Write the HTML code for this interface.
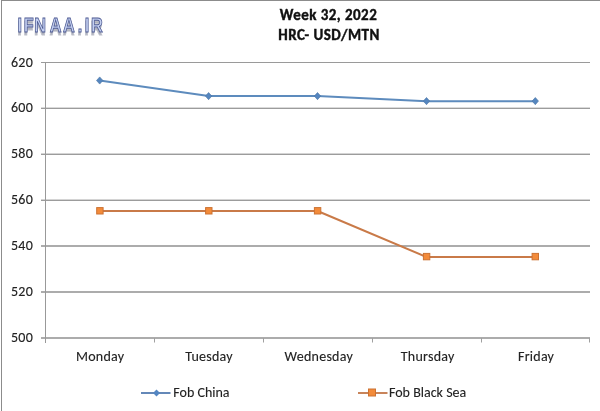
<!DOCTYPE html>
<html><head><meta charset="utf-8">
<style>
html,body{margin:0;padding:0;background:#fff;width:600px;height:411px;overflow:hidden}
svg{display:block}
.ax{font-family:Carlito,"Liberation Sans",sans-serif;font-size:14px;fill:#222;stroke:#222;stroke-width:0.12px;letter-spacing:0.25px}
.lg{letter-spacing:0;stroke-width:0.1px;fill:#222;stroke:#222}
.tt{font-family:Carlito,"Liberation Sans",sans-serif;font-size:15px;font-weight:bold;fill:#111;letter-spacing:0.45px;stroke:#111;stroke-width:0.4px}
.logo{font-family:"Liberation Sans",Arial,sans-serif;font-size:21px;font-weight:bold}
</style></head>
<body>
<svg width="600" height="411" viewBox="0 0 600 411">
<rect x="0" y="0" width="600" height="411" fill="#fff"/>
<!-- frame -->
<rect x="1" y="0" width="1" height="411" fill="#8c8c8c"/>
<rect x="1" y="0" width="599" height="1" fill="#8c8c8c"/>

<!-- logo -->
<g class="logo">
<text x="22.05 30.00 43.46 63.33 80.38 99.10 108.08 116.15" y="35.2" fill="#aeb1bd" stroke="#c0c3cc" stroke-width="0.8" transform="scale(0.78,1)">IFNAA.IR</text>
<text x="22.56 30.51 43.97 63.85 80.90 99.62 108.59 116.67" y="32.2" fill="#c3cff0" stroke="#4a5790" stroke-width="0.85" transform="scale(0.78,1)">IFNAA.IR</text>
</g>

<!-- title -->
<text class="tt" x="328.5" y="20" text-anchor="middle">Week 32, 2022</text>
<text class="tt" x="329" y="39.5" text-anchor="middle">HRC- USD/MTN</text>

<!-- gridlines -->
<g>
<rect x="41" y="62" width="549" height="1" fill="#9a9a9a"/>
<rect x="41" y="107" width="549" height="1" fill="#dadada"/>
<rect x="41" y="108" width="549" height="1" fill="#9c9c9c"/>
<rect x="41" y="153" width="549" height="1" fill="#d4d4d4"/>
<rect x="41" y="154" width="549" height="1" fill="#9c9c9c"/>
<rect x="41" y="199" width="549" height="1" fill="#d4d4d4"/>
<rect x="41" y="200" width="549" height="1" fill="#9c9c9c"/>
<rect x="41" y="245" width="549" height="2" fill="#acacac"/>
<rect x="41" y="291" width="549" height="2" fill="#acacac"/>
<rect x="41" y="337" width="549" height="2" fill="#acacac"/>
<!-- y axis -->
<rect x="45" y="62" width="1" height="281" fill="#999"/>
<!-- x ticks -->
<g fill="#a0a0a0">
<rect x="154" y="338" width="1" height="4.5"/>
<rect x="263" y="338" width="1" height="4.5"/>
<rect x="372" y="338" width="1" height="4.5"/>
<rect x="481" y="338" width="1" height="4.5"/>
<rect x="589" y="338" width="1" height="4.5"/>
</g>
</g>

<!-- y labels -->
<g class="ax" text-anchor="end">
<text x="33" y="66.5">620</text>
<text x="33" y="112.3">600</text>
<text x="33" y="158.3">580</text>
<text x="33" y="204.3">560</text>
<text x="33" y="250">540</text>
<text x="33" y="296">520</text>
<text x="33" y="341.6">500</text>
</g>

<!-- x labels -->
<g class="ax" text-anchor="middle">
<text x="100.2" y="361">Monday</text>
<text x="209" y="361">Tuesday</text>
<text x="318.8" y="361">Wednesday</text>
<text x="427.7" y="361">Thursday</text>
<text x="536.1" y="361">Friday</text>
</g>

<!-- series: Fob China -->
<polyline points="99.6,80.5 208.6,96.1 317.5,96.1 426.5,101.2 535.4,101.2" fill="none" stroke="#5d8bbd" stroke-width="2" stroke-linejoin="round"/>
<g fill="#5586bf" stroke="#4a74a2" stroke-width="0.6">
<path d="M99.70,76.90 L102.90,80.50 L99.70,84.10 L96.50,80.50Z"/>
<path d="M208.60,92.50 L211.80,96.10 L208.60,99.70 L205.40,96.10Z"/>
<path d="M317.50,92.50 L320.70,96.10 L317.50,99.70 L314.30,96.10Z"/>
<path d="M426.50,97.50 L429.70,101.10 L426.50,104.70 L423.30,101.10Z"/>
<path d="M535.30,97.50 L538.50,101.10 L535.30,104.70 L532.10,101.10Z"/>
</g>

<!-- series: Fob Black Sea -->
<polyline points="99.5,211 208.5,211 317.5,211 426.5,257 535.5,257" fill="none" stroke="#c97a48" stroke-width="2" stroke-linejoin="round"/>
<g fill="#f38b3a" stroke="#cc7232" stroke-width="1">
<rect x="96.70" y="207.60" width="6.4" height="6.4"/>
<rect x="205.60" y="207.60" width="6.4" height="6.4"/>
<rect x="314.40" y="207.60" width="6.4" height="6.4"/>
<rect x="423.40" y="253.40" width="6.4" height="6.4"/>
<rect x="532.10" y="253.40" width="6.4" height="6.4"/>
</g>

<!-- legend -->
<line x1="141" y1="393" x2="170.5" y2="393" stroke="#6488b8" stroke-width="2"/>
<path d="M156.5,389.5 L160,393 L156.5,396.5 L153,393Z" fill="#5486c2"/>
<text class="ax lg" x="173.3" y="397">Fob China</text>

<line x1="358" y1="393" x2="387.5" y2="393" stroke="#c8845a" stroke-width="2"/>
<rect x="368.5" y="389" width="7" height="7" fill="#f38b3a" stroke="#cc7232" stroke-width="1"/>
<text class="ax lg" x="389" y="397">Fob Black Sea</text>
</svg>
</body></html>
